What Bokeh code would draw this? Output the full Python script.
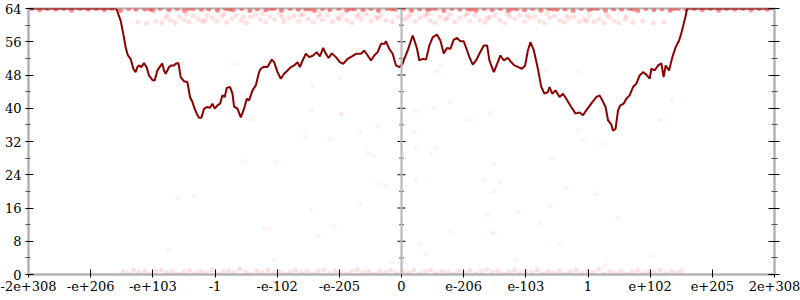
from bokeh.plotting import figure
from bokeh.models import Range1d, FixedTicker, LinearAxis, Span
from bokeh.embed import file_html
from bokeh.resources import INLINE

# ---- axis ticks (x axis is ordinal position of doubles) ----
x_ticks = [-6, -5, -4, -3, -2, -1, 0, 1, 2, 3, 4, 5, 6]
x_labels = ["-2e+308", "-e+206", "-e+103", "-1", "-e-102", "-e-205", "0",
            "e-206", "e-103", "1", "e+102", "e+205", "2e+308"]
y_ticks = [0, 8, 16, 24, 32, 40, 48, 56, 64]
y_minor = [4, 12, 20, 28, 36, 44, 52, 60]

# ---- averaged error line (bits) ----
line_x = [-6.000, -4.588, -4.518, -4.475, -4.438, -4.401, -4.357, -4.314, -4.277, -4.249,
          -4.224, -4.185, -4.143, -4.100, -4.062, -4.008, -3.971, -3.927, -3.885, -3.847,
          -3.821, -3.793, -3.740, -3.702, -3.660, -3.632, -3.589, -3.552, -3.499, -3.444,
          -3.402, -3.363, -3.338, -3.294, -3.257, -3.218, -3.177, -3.122, -3.080, -3.041,
          -3.004, -2.961, -2.919, -2.880, -2.843, -2.811, -2.758, -2.719, -2.693, -2.639,
          -2.585, -2.532, -2.489, -2.452, -2.397, -2.344, -2.291, -2.263, -2.210, -2.155,
          -2.086, -2.049, -1.994, -1.941, -1.888, -1.833, -1.780, -1.727, -1.672, -1.635,
          -1.591, -1.538, -1.485, -1.421, -1.366, -1.313, -1.260, -1.216, -1.173, -1.120,
          -1.055, -0.991, -0.937, -0.867, -0.797, -0.733, -0.652, -0.599, -0.544, -0.491,
          -0.438, -0.383, -0.330, -0.277, -0.250, -0.197, -0.142, -0.089, -0.035, 0.019,
          0.045, 0.100, 0.180, 0.217, 0.250, 0.287, 0.341, 0.395, 0.448, 0.503,
          0.572, 0.625, 0.680, 0.733, 0.786, 0.841, 0.894, 0.947, 1.002, 1.055,
          1.092, 1.147, 1.200, 1.253, 1.324, 1.377, 1.414, 1.485, 1.538, 1.591,
          1.646, 1.711, 1.764, 1.817, 1.881, 1.936, 1.989, 2.033, 2.075, 2.129,
          2.194, 2.247, 2.300, 2.355, 2.381, 2.424, 2.477, 2.542, 2.597, 2.650,
          2.730, 2.800, 2.864, 2.919, 2.972, 3.052, 3.133, 3.186, 3.230, 3.283,
          3.322, 3.375, 3.402, 3.444, 3.483, 3.520, 3.573, 3.616, 3.669, 3.724,
          3.777, 3.831, 3.885, 3.938, 3.992, 4.019, 4.072, 4.127, 4.180, 4.217,
          4.249, 4.304, 4.357, 4.410, 4.465, 4.502, 4.539, 4.572, 4.594, 6.000]
line_err = [64.0, 64.0, 61.1, 57.9, 54.7, 52.7, 51.9, 49.5, 48.7, 49.9,
            50.3, 49.9, 50.9, 49.9, 47.9, 46.8, 46.7, 49.1, 50.0, 50.8,
            49.1, 48.3, 49.9, 50.3, 50.3, 50.7, 50.9, 47.5, 46.5, 46.3,
            42.7, 41.5, 40.3, 38.7, 37.7, 37.7, 39.9, 40.3, 40.1, 41.1,
            39.9, 40.7, 41.1, 43.1, 42.7, 44.9, 45.1, 43.5, 40.4, 39.9,
            37.8, 39.9, 42.3, 41.9, 44.3, 45.5, 48.7, 49.5, 50.0, 49.9,
            51.7, 51.1, 48.7, 47.1, 48.3, 49.1, 49.9, 50.3, 51.1, 49.9,
            51.5, 53.1, 52.3, 52.7, 53.5, 52.5, 54.5, 53.1, 52.1, 53.2,
            52.3, 51.1, 50.7, 51.9, 52.5, 53.1, 53.1, 53.9, 52.7, 51.5,
            52.7, 53.5, 55.5, 55.5, 56.1, 54.3, 53.1, 50.3, 49.9, 50.7,
            51.9, 53.9, 57.5, 55.9, 54.3, 51.5, 51.9, 51.7, 55.1, 57.1,
            57.7, 56.3, 53.2, 54.5, 54.3, 56.5, 56.9, 56.1, 56.1, 53.9,
            52.3, 50.5, 51.5, 53.1, 55.1, 55.1, 51.5, 48.7, 50.7, 52.7,
            51.5, 52.1, 51.1, 50.3, 49.9, 49.5, 50.3, 53.9, 55.9, 53.9,
            49.5, 45.2, 43.5, 43.9, 45.1, 43.5, 44.3, 42.7, 43.5, 42.3,
            40.3, 38.7, 39.0, 38.3, 39.5, 41.1, 42.7, 43.1, 41.9, 40.3,
            37.1, 36.1, 34.6, 35.1, 39.5, 40.7, 41.1, 42.3, 43.1, 45.1,
            45.9, 47.9, 48.7, 48.1, 47.1, 49.5, 49.1, 50.3, 50.8, 47.5,
            50.3, 49.1, 52.3, 54.7, 56.3, 58.1, 60.3, 62.3, 64.0, 64.0]

# ---- sampled points (x position, bits of error) ----
top_pts = [(-5.95, 64), (-5.82, 63.7), (-5.70, 64), (-5.56, 63.8), (-5.43, 64), (-5.31, 63.6), (-5.17, 64), (-5.04, 63.8), (-4.91, 64), (-4.78, 63.7),
           (-4.66, 64), (-4.52, 63.5), (-4.39, 64), (-4.27, 63.8), (-4.13, 63.9), (-4.00, 63.6), (-3.88, 64), (-3.74, 63.7), (-3.61, 64), (-3.49, 63.5),
           (-3.35, 64), (-3.22, 63.8), (-3.10, 63.9), (-2.96, 63.6), (-2.83, 64), (-2.71, 63.7), (-2.57, 64), (-2.44, 63.5), (-2.32, 63.9), (-2.18, 63.7),
           (-2.05, 64), (-1.93, 63.6), (-1.79, 64), (-1.66, 63.8), (-1.54, 63.9), (-1.40, 63.5), (-1.27, 64), (-1.15, 63.7), (-1.01, 64), (-0.88, 63.6),
           (-0.76, 63.9), (-0.62, 63.7), (-0.49, 64), (-0.37, 63.5), (-0.23, 64), (-0.10, 63.8), (0.03, 64), (0.16, 63.6), (0.29, 63.9), (0.42, 63.7),
           (0.55, 64), (0.68, 63.5), (0.81, 64), (0.94, 63.8), (1.07, 63.9), (1.20, 63.6), (1.33, 64), (1.46, 63.7), (1.59, 64), (1.72, 63.5),
           (1.85, 63.9), (1.98, 63.7), (2.11, 64), (2.24, 63.6), (2.37, 64), (2.50, 63.8), (2.63, 63.9), (2.76, 63.5), (2.89, 64), (3.02, 63.7),
           (3.15, 64), (3.28, 63.6), (3.41, 63.9), (3.54, 63.8), (3.67, 64), (3.80, 63.5), (3.93, 64), (4.06, 63.7), (4.19, 63.9), (4.32, 63.6),
           (4.45, 64), (4.58, 63.8), (4.71, 64), (4.84, 63.7), (4.97, 64), (5.10, 63.6), (5.23, 64), (5.36, 63.8), (5.49, 64), (5.62, 63.7),
           (5.75, 64), (5.88, 63.8),
           (-4.05, 63.9), (-3.42, 64), (-2.77, 63.8), (-2.11, 64), (-1.47, 63.9), (-0.82, 64), (-0.16, 63.9), (0.48, 64),
           (1.13, 63.8), (1.78, 64), (2.43, 63.9), (3.08, 64), (3.73, 63.8), (4.38, 64)]

band_pts = [(-4.24, 60.7), (-4.10, 60.4), (-3.95, 61.0), (-3.86, 60.5), (-3.80, 61.8), (-3.72, 61.2), (-3.64, 60.6), (-3.57, 62.0), (-3.50, 61.3), (-3.42, 60.8),
            (-3.35, 62.2), (-3.27, 61.5), (-3.20, 60.9), (-3.12, 62.4), (-3.04, 61.7), (-2.97, 61.0), (-2.89, 62.1), (-2.81, 60.7), (-2.73, 61.6), (-2.66, 62.3),
            (-2.58, 61.1), (-2.50, 60.6), (-2.43, 61.9), (-2.35, 62.5), (-2.27, 61.3), (-2.19, 60.8), (-2.12, 62.0), (-2.04, 61.4), (-1.96, 62.6), (-1.89, 60.9),
            (-1.81, 61.7), (-1.73, 62.2), (-1.65, 61.0), (-1.58, 62.6), (-1.50, 61.5), (-1.42, 60.7), (-1.34, 62.0), (-1.27, 61.3), (-1.19, 62.4), (-1.11, 60.9),
            (-1.03, 61.8), (-0.96, 62.5), (-0.88, 61.2), (-0.80, 60.6), (-0.72, 62.1), (-0.65, 61.5), (-0.57, 62.7), (-0.49, 61.0), (-0.41, 61.9), (-0.33, 62.3),
            (-0.25, 61.2), (-0.15, 60.8), (-0.05, 62.0), (0.05, 61.4), (0.14, 62.5), (0.22, 60.9), (0.30, 61.8), (0.38, 62.3), (0.46, 61.1), (0.54, 60.6),
            (0.62, 62.0), (0.70, 61.4), (0.78, 62.6), (0.86, 60.8), (0.94, 61.7), (1.02, 62.2), (1.10, 61.0), (1.18, 62.5), (1.26, 61.3), (1.34, 60.7),
            (1.42, 61.9), (1.50, 62.3), (1.58, 61.2), (1.66, 60.6), (1.74, 62.0), (1.82, 61.5), (1.90, 62.4), (1.98, 60.9), (2.06, 61.7), (2.14, 62.1),
            (2.22, 61.0), (2.30, 60.5), (2.38, 61.8), (2.46, 62.2), (2.54, 61.1), (2.62, 60.7), (2.70, 61.6), (2.78, 62.0), (2.86, 60.9), (2.94, 61.4),
            (3.02, 62.3), (3.10, 60.8), (3.18, 61.5), (3.26, 60.6), (3.34, 61.9), (3.42, 61.0), (3.50, 60.5), (3.60, 61.4), (3.72, 60.7), (3.88, 61.0),
            (4.05, 60.5), (4.22, 60.8),
            (-3.76, 62.4), (-3.46, 62.6), (-3.16, 61.2), (-2.85, 62.7), (-2.54, 62.0), (-2.23, 62.8), (-1.92, 61.9), (-1.62, 62.3),
            (-1.31, 62.8), (-1.00, 61.5), (-0.69, 62.6), (-0.37, 61.6), (0.10, 61.9), (0.42, 62.7), (0.74, 61.6), (1.06, 62.8),
            (1.38, 61.6), (1.70, 62.7), (2.02, 62.4), (2.34, 62.8), (2.66, 62.2), (2.98, 61.0), (3.30, 62.5), (3.62, 62.0)]

floor_pts = [(-4.48, 0.8), (-4.40, 0.3), (-4.31, 1.0), (-4.22, 0.5), (-4.13, 0.9), (-4.04, 0.2), (-3.95, 0.7), (-3.86, 1.1), (-3.77, 0.4), (-3.68, 0.8),
             (-3.59, 0.1), (-3.50, 0.6), (-3.41, 1.0), (-3.32, 0.3), (-3.23, 0.8), (-3.14, 0.5), (-3.05, 1.1), (-2.96, 0.2), (-2.87, 0.7), (-2.78, 0.9),
             (-2.69, 0.4), (-2.60, 1.3), (-2.51, 0.6), (-2.42, 0.1), (-2.33, 0.9), (-2.24, 0.5), (-2.15, 1.0), (-2.06, 0.3), (-1.97, 0.8), (-1.88, 0.2),
             (-1.79, 0.6), (-1.70, 1.0), (-1.61, 0.4), (-1.52, 0.8), (-1.43, 0.1), (-1.34, 0.7), (-1.25, 1.1), (-1.16, 0.3), (-1.07, 0.9), (-0.98, 0.5),
             (-0.89, 0.2), (-0.80, 0.8), (-0.71, 1.2), (-0.62, 0.4), (-0.53, 0.7), (-0.44, 0.1), (-0.35, 0.9), (-0.26, 0.5), (-0.17, 1.0), (-0.08, 0.3),
             (0.02, 0.8), (0.11, 0.4), (0.20, 1.0), (0.29, 0.2), (0.38, 0.7), (0.47, 1.1), (0.56, 0.3), (0.65, 0.8), (0.74, 0.5), (0.83, 0.1),
             (0.92, 0.9), (1.01, 0.4), (1.10, 1.0), (1.19, 0.2), (1.28, 0.7), (1.37, 1.2), (1.46, 0.5), (1.55, 0.9), (1.64, 0.1), (1.73, 0.6),
             (1.82, 1.0), (1.91, 0.3), (2.00, 0.8), (2.09, 0.5), (2.18, 1.1), (2.27, 0.2), (2.36, 0.7), (2.45, 0.4), (2.54, 0.9), (2.63, 0.1),
             (2.72, 0.6), (2.81, 1.0), (2.90, 0.3), (2.99, 0.8), (3.08, 0.5), (3.17, 1.3), (3.26, 0.2), (3.35, 0.7), (3.44, 0.4), (3.53, 0.9),
             (3.62, 0.1), (3.71, 0.6), (3.80, 1.0), (3.89, 0.3), (3.98, 0.8), (4.07, 0.5), (4.16, 1.0), (4.25, 0.2), (4.34, 0.7), (4.43, 0.4),
             (4.50, 0.9)]

sparse_pts = [(-3.74, 5.9), (-3.605, 18.5), (-3.326, 18.8), (-2.548, 27.3), (-2.017, 26.9), (-2.21, 11.0), (-2.139, 10.8), (-2.049, 3.5),
              (-1.458, 15.4), (-1.340, 9.1), (-1.083, 11.5), (-0.680, 16.8), (-0.544, 29.2), (-0.448, 28.6), (-0.367, 21.7), (-0.238, 21.2),
              (-0.158, 3.0), (0.475, 29.2), (0.234, 22.8), (0.02, 22.6), (0.02, 21.0), (0.786, 10.4), (0.303, 7.2), (0.395, 5.0),
              (1.324, 22.8), (1.485, 26.6), (1.591, 22.2), (1.495, 20.0), (1.388, 14.2), (1.453, 10.3), (1.495, 9.9), (1.872, 14.8),
              (2.236, 12.4), (1.844, 3.4), (2.381, 16.6), (2.419, 28.1), (2.638, 20.8), (2.532, 7.4), (3.133, 19.4), (3.467, 13.5),
              (3.283, 2.3), (4.046, 4.6), (-1.430, 45.5), (-0.986, 47.3), (-0.975, 38.7), (-1.447, 39.6), (-1.550, 33.2), (-1.147, 32.6),
              (-0.680, 34.1), (-0.383, 35.6), (-2.413, 37.2), (-2.709, 50.7), (0.556, 48.7), (0.636, 50.3), (2.327, 49.2), (2.838, 48.8),
              (0.234, 39.3), (0.512, 39.9), (0.781, 41.7), (1.426, 38.9), (1.083, 37.3), (0.206, 34.2), (0.234, 30.6), (0.572, 30.6),
              (2.919, 32.4), (3.214, 31.4), (4.169, 37.2), (4.352, 42.0), (2.838, 34.6), (3.198, 39.6), (-0.958, 38.5)]

FONT = "DejaVu Serif"
FS = "13px"
AXIS_GRAY = "#b4b4b4"

p = figure(width=800, height=300, output_backend="svg", toolbar_location=None,
           x_range=Range1d(-6, 6), y_range=Range1d(0, 64),
           min_border_left=28, min_border_right=26, min_border_top=8, min_border_bottom=26,
           x_axis_location="below", y_axis_location="left")
p.grid.visible = False
p.outline_line_color = AXIS_GRAY
p.outline_line_width = 2
p.background_fill_color = "white"
p.border_fill_color = "white"

def style_axis(ax, labels=True):
    ax.axis_line_color = AXIS_GRAY
    ax.axis_line_width = 2
    ax.major_tick_line_color = "black"
    ax.major_tick_line_width = 1
    ax.minor_tick_line_color = "#555555"
    ax.minor_tick_line_width = 1
    ax.major_label_text_font = FONT
    ax.major_label_text_font_size = FS
    ax.major_label_text_color = "black" if labels else None

# bottom x axis
xa = p.xaxis[0]
xa.ticker = FixedTicker(ticks=x_ticks, minor_ticks=[])
xa.major_label_overrides = {t: l for t, l in zip(x_ticks, x_labels)}
style_axis(xa)
xa.major_tick_in = 5
xa.major_tick_out = 3
xa.major_label_standoff = 3

# left y axis
ya = p.yaxis[0]
ya.ticker = FixedTicker(ticks=y_ticks, minor_ticks=y_minor)
style_axis(ya)
ya.major_tick_in = 5
ya.major_tick_out = 3
ya.minor_tick_in = 2
ya.minor_tick_out = 3
ya.major_label_standoff = 4

# right y axis (ticks only)
ra = LinearAxis(ticker=FixedTicker(ticks=y_ticks, minor_ticks=y_minor))
style_axis(ra, labels=False)
ra.major_tick_in = 6
ra.major_tick_out = 5
ra.minor_tick_in = 3
ra.minor_tick_out = 3
p.add_layout(ra, "right")

# central axis at x = 0
p.add_layout(Span(location=0, dimension="height", line_color=AXIS_GRAY, line_width=2))
p.scatter(x=[0.0] * len(y_ticks), y=y_ticks, marker="dash", size=8,
          line_color="black", line_width=1)
p.scatter(x=[0.0] * len(y_minor), y=y_minor, marker="dash", size=5,
          line_color="#555555", line_width=1)

def draw(pts, alpha):
    xs, ys = zip(*pts)
    p.scatter(x=list(xs), y=list(ys), size=5, fill_color="red", line_color=None,
              fill_alpha=alpha)

draw(sparse_pts, 0.05)
draw(floor_pts, 0.12)
draw(band_pts, 0.12)
draw(top_pts, 0.45)

p.line(x=line_x, y=line_err, line_color="#8b0000", line_width=2)

open("out.html", "w").write(file_html(p, INLINE))
